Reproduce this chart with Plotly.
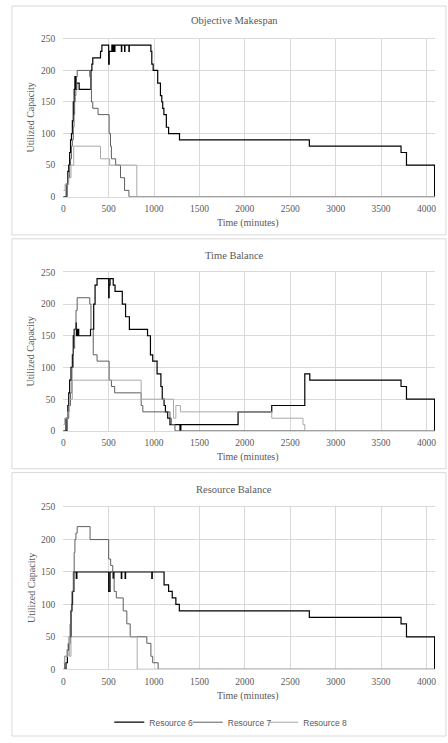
import plotly.graph_objects as go

# ---------------- data (step change points: time in minutes, utilized capacity) -------------
series_names = ["Resource 6", "Resource 7", "Resource 8"]
panel_titles = ["Objective Makespan", "Time Balance", "Resource Balance"]
x_ticks = [0, 500, 1000, 1500, 2000, 2500, 3000, 3500, 4000]
y_ticks = [0, 50, 100, 150, 200, 250]

# Objective Makespan
om_r6_t = [0, 40, 50, 60, 70, 80, 90, 100, 110, 120, 128, 133, 138, 142, 147, 175, 305, 315, 325, 410, 425,
           500, 506, 535, 548, 552, 565, 569, 640, 644, 675, 679, 723, 727, 965, 975, 990, 1040, 1070,
           1085, 1095, 1108, 1135, 1160, 1280, 2710, 3720, 3780, 4090]
om_r6_v = [0, 20, 40, 50, 70, 90, 100, 120, 150, 170, 190, 170, 190, 170, 180, 170, 200, 210, 220, 230, 240,
           210, 230, 240, 230, 240, 230, 240, 230, 240, 230, 240, 230, 240, 230, 210, 200, 180, 160,
           150, 140, 130, 110, 100, 90, 80, 70, 50, 0]
om_r7_t = [0, 30, 55, 70, 80, 90, 100, 110, 118, 125, 130, 138, 145, 153, 292, 300, 310, 325, 383,
           505, 520, 530, 577, 630, 675, 723, 4090]
om_r7_v = [0, 20, 30, 50, 60, 80, 90, 110, 130, 150, 160, 170, 190, 200, 190, 170, 150, 140, 130,
           100, 80, 60, 50, 30, 10, 0, 0]
om_r8_t = [0, 20, 60, 85, 115, 410, 510, 810, 4090]
om_r8_v = [10, 20, 30, 50, 80, 60, 50, 0, 0]

# Time Balance
tb_r6_t = [0, 40, 50, 60, 70, 85, 100, 110, 120, 140, 145, 150, 155, 160, 170, 300, 335, 350, 372,
           500, 505, 515, 550, 570, 650, 686, 728, 928, 960, 985, 1033, 1075, 1090, 1110, 1125, 1150,
           1175, 1285, 1295, 1925, 2296, 2660, 2715, 3720, 3780, 4090]
tb_r6_v = [0, 20, 40, 60, 80, 100, 120, 150, 160, 170, 150, 160, 150, 160, 150, 160, 200, 230, 240,
           210, 230, 240, 230, 220, 200, 180, 160, 150, 120, 110, 90, 70, 50, 40, 30, 20,
           10, 0, 10, 30, 40, 90, 80, 70, 50, 0]
tb_r7_t = [0, 25, 60, 80, 95, 110, 125, 140, 153, 292, 305, 330, 372, 505, 530, 566, 858, 876,
           1175, 1190, 1230, 4090]
tb_r7_v = [0, 20, 40, 60, 100, 130, 160, 190, 210, 200, 160, 120, 110, 80, 70, 60, 40, 30,
           20, 10, 0, 0]
tb_r8_t = [0, 15, 50, 70, 100, 858, 1214, 1240, 1290, 2296, 2640, 2660, 4090]
tb_r8_v = [10, 20, 30, 50, 80, 50, 20, 40, 30, 20, 10, 0, 0]

# Resource Balance
rb_r6_t = [0, 30, 45, 60, 73, 85, 95, 102, 117, 143, 150, 500, 515, 553, 558, 639, 644, 681, 686,
           975, 980, 1110, 1160, 1200, 1240, 1278, 2710, 3720, 3780, 4090]
rb_r6_v = [0, 10, 30, 40, 50, 90, 100, 120, 150, 140, 150, 120, 150, 140, 150, 140, 150, 140, 150,
           140, 150, 130, 120, 110, 100, 90, 80, 70, 50, 0]
rb_r7_t = [0, 15, 50, 66, 75, 84, 95, 110, 120, 128, 139, 153, 295, 500, 522, 545, 560, 584, 660,
           700, 737, 920, 965, 985, 1045, 4090]
rb_r7_v = [0, 20, 30, 50, 70, 90, 120, 150, 180, 200, 210, 220, 200, 170, 160, 140, 120, 110, 90,
           70, 50, 40, 20, 10, 0, 0]
rb_r8_t = [0, 15, 50, 60, 70, 85, 814, 4090]
rb_r8_v = [10, 20, 40, 50, 20, 50, 0, 0]

panels = [
    [(om_r6_t, om_r6_v), (om_r7_t, om_r7_v), (om_r8_t, om_r8_v)],
    [(tb_r6_t, tb_r6_v), (tb_r7_t, tb_r7_v), (tb_r8_t, tb_r8_v)],
    [(rb_r6_t, rb_r6_v), (rb_r7_t, rb_r7_v), (rb_r8_t, rb_r8_v)],
]

# ---------------- layout helpers -------------
W, H = 448, 743
def fx(px):
    return px / W
def fy(py):
    return 1 - py / H

colors = ["#000000", "#5e5e5e", "#a9a9a9"]
widths = [1.2, 1.0, 1.0]
SERIF = "Liberation Serif"
GRID = "#d9d9d9"
TXT = "#595959"

plot_x = (61.7, 436.0)
plot_y = [(34.3, 194.3), (271.0, 431.7), (509.0, 673.3)]
title_y = [16, 254, 491]
xtitle_y = [221, 458, 700]
frames = [(10, 1, 447, 233), (10, 237, 447, 470), (10, 474, 447, 741)]
legend_keys = ["legend", "legend2", "legend3"]
legend_x_px = [108, 187, 263]

fig = go.Figure()
layout = dict(
    width=W, height=H,
    margin=dict(l=0, r=0, t=0, b=0),
    paper_bgcolor="white", plot_bgcolor="white",
    showlegend=True,
    shapes=[], annotations=[],
)
for key, lx in zip(legend_keys, legend_x_px):
    layout[key] = dict(orientation="h", x=fx(lx), xanchor="left", y=fy(727), yanchor="middle",
                       font=dict(family="Liberation Sans", size=8.5, color=TXT),
                       itemwidth=30, bgcolor="rgba(0,0,0,0)", borderwidth=0)

for i, series in enumerate(panels):
    k = "" if i == 0 else str(i + 1)
    for j, (t, v) in enumerate(series):
        fig.add_trace(go.Scatter(
            x=t, y=v, mode="lines", line_shape="hv",
            line=dict(color=colors[j], width=widths[j]),
            name=series_names[j], showlegend=(i == 2), legend=legend_keys[j],
            xaxis="x" + k, yaxis="y" + k, hoverinfo="skip"))
    layout["xaxis" + k] = dict(
        domain=[fx(plot_x[0]), fx(plot_x[1])], range=[0, 4095], anchor="y" + k,
        tickvals=x_ticks, showgrid=True, gridcolor=GRID, gridwidth=1, zeroline=False,
        showline=True, linecolor=GRID, linewidth=1, mirror=True, ticks="",
        tickfont=dict(family=SERIF, size=9.5, color=TXT), ticklabelstandoff=3, fixedrange=True)
    layout["yaxis" + k] = dict(
        domain=[fy(plot_y[i][1]), fy(plot_y[i][0])], range=[0, 250], anchor="x" + k,
        tickvals=y_ticks, showgrid=True, gridcolor=GRID, gridwidth=1, zeroline=False,
        showline=False, ticks="",
        tickfont=dict(family=SERIF, size=9.5, color=TXT), ticklabelstandoff=7, fixedrange=True)
    x0, y0, x1, y1 = frames[i]
    layout["shapes"].append(dict(type="rect", xref="paper", yref="paper",
                                 x0=fx(x0), x1=fx(x1), y0=fy(y1), y1=fy(y0),
                                 line=dict(color=GRID, width=1), fillcolor="rgba(0,0,0,0)", layer="below"))
    layout["annotations"].append(dict(text=panel_titles[i], x=fx(234), y=fy(title_y[i]),
                                      xref="paper", yref="paper", showarrow=False,
                                      xanchor="center", yanchor="middle",
                                      font=dict(family=SERIF, size=10.5, color=TXT)))
    layout["annotations"].append(dict(text="Time (minutes)", x=fx(248), y=fy(xtitle_y[i]),
                                      xref="paper", yref="paper", showarrow=False,
                                      xanchor="center", yanchor="middle",
                                      font=dict(family=SERIF, size=10, color=TXT)))
    layout["annotations"].append(dict(text="Utilized Capacity", textangle=-90,
                                      x=fx(29), y=fy((plot_y[i][0] + plot_y[i][1]) / 2),
                                      xref="paper", yref="paper", showarrow=False,
                                      xanchor="center", yanchor="middle",
                                      font=dict(family=SERIF, size=10, color=TXT)))

fig.update_layout(**layout)
fig.write_html("out.html", config={"displayModeBar": False},
               post_script="document.body.style.margin='0';document.body.style.padding='0';"
                           "document.body.style.overflow='hidden';")
